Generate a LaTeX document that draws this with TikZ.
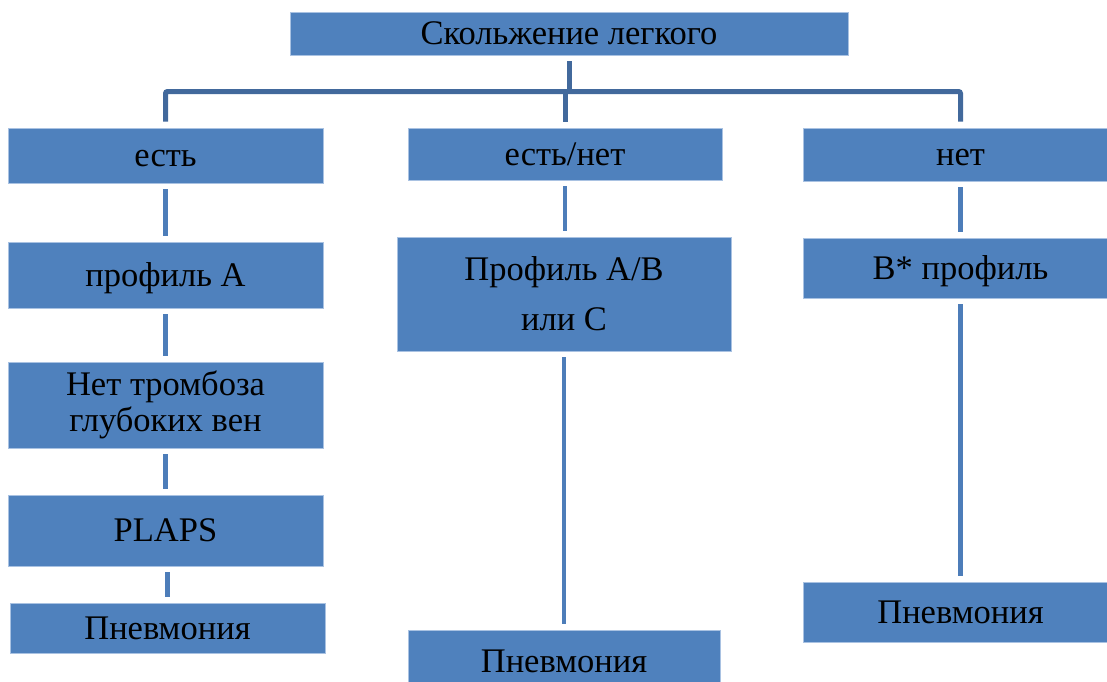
\documentclass[tikz,border=0pt]{standalone}
\usepackage{fontspec}
\setmainfont{Liberation Serif}
\definecolor{boxblue}{HTML}{4F81BD}
\definecolor{boxedge}{HTML}{A9C2E2}
\definecolor{treeblue}{HTML}{42699C}
\definecolor{linkblue}{HTML}{4D7DB9}
\begin{document}
\begin{tikzpicture}[x=1pt,y=-1pt,
  boxm/.style={rectangle, fill=boxblue, draw=boxedge, line width=0.8pt, inner sep=0pt,
    text=black, align=center, font=\fontsize{34.5}{36}\selectfont},
  box/.style={boxm, text height=22.8pt, text depth=0pt},
  tree/.style={draw=treeblue, line width=5pt, rounded corners=2pt},
  link/.style={draw=linkblue, line width=4.5pt, shorten >=6pt, shorten <=6pt}]
\useasboundingbox (0,0) rectangle (1107,681);

\node[box, minimum width=558pt, minimum height=43pt] (top) at (569,33.5) {Скольжение легкого};

\node[box, minimum width=315pt, minimum height=55pt] (yes) at (165.5,155.5) {есть};
\node[box, minimum width=314pt, minimum height=52pt] (yn) at (565,154) {есть/нет};
\node[box, minimum width=315pt, minimum height=53pt] (no) at (960.5,154.5) {нет};

\node[box, minimum width=315pt, minimum height=66pt] (profA) at (165.5,275) {профиль А};
\node[boxm, minimum width=315pt, minimum height=86pt] (dvt) at (165.5,405) {Нет тромбоза\\глубоких вен};
\node[box, minimum width=315pt, minimum height=71pt] (plaps) at (165.5,530.5) {PLAPS};
\node[box, minimum width=315pt, minimum height=50pt] (pnL) at (167.5,628) {Пневмония};

\node[boxm, minimum width=334pt, minimum height=114pt] (profAB) at (564,294) {Профиль А/В\\[14pt]или С};
\node[box, minimum width=312pt, minimum height=62pt] (pnM) at (564,661) {Пневмония};

\node[box, minimum width=315pt, minimum height=60pt] (bstar) at (960.5,268) {В* профиль};
\node[box, minimum width=315pt, minimum height=60pt] (pnR) at (960.5,612) {Пневмония};

\coordinate (bar) at (565,91.5);
\draw[tree] ([yshift=-6pt]top.south) -- (top.south |- bar);
\draw[tree] ([yshift=6pt]yes.north) |- (bar) -| ([yshift=6pt]no.north);
\draw[tree] ([yshift=6pt]yn.north) -- (yn.north |- bar);

\draw[link] (yes.south) -- (profA.north);
\draw[link] (profA.south) -- (dvt.north);
\draw[link] (dvt.south) -- (plaps.north);
\draw[link] (plaps.south -| pnL.north) -- (pnL.north);
\draw[link] (yn.south) -- (yn.south |- profAB.north);
\draw[link] (profAB.south) -- (pnM.north);
\draw[link] (no.south) -- (bstar.north);
\draw[link] (bstar.south) -- (pnR.north);
\end{tikzpicture}
\end{document}
